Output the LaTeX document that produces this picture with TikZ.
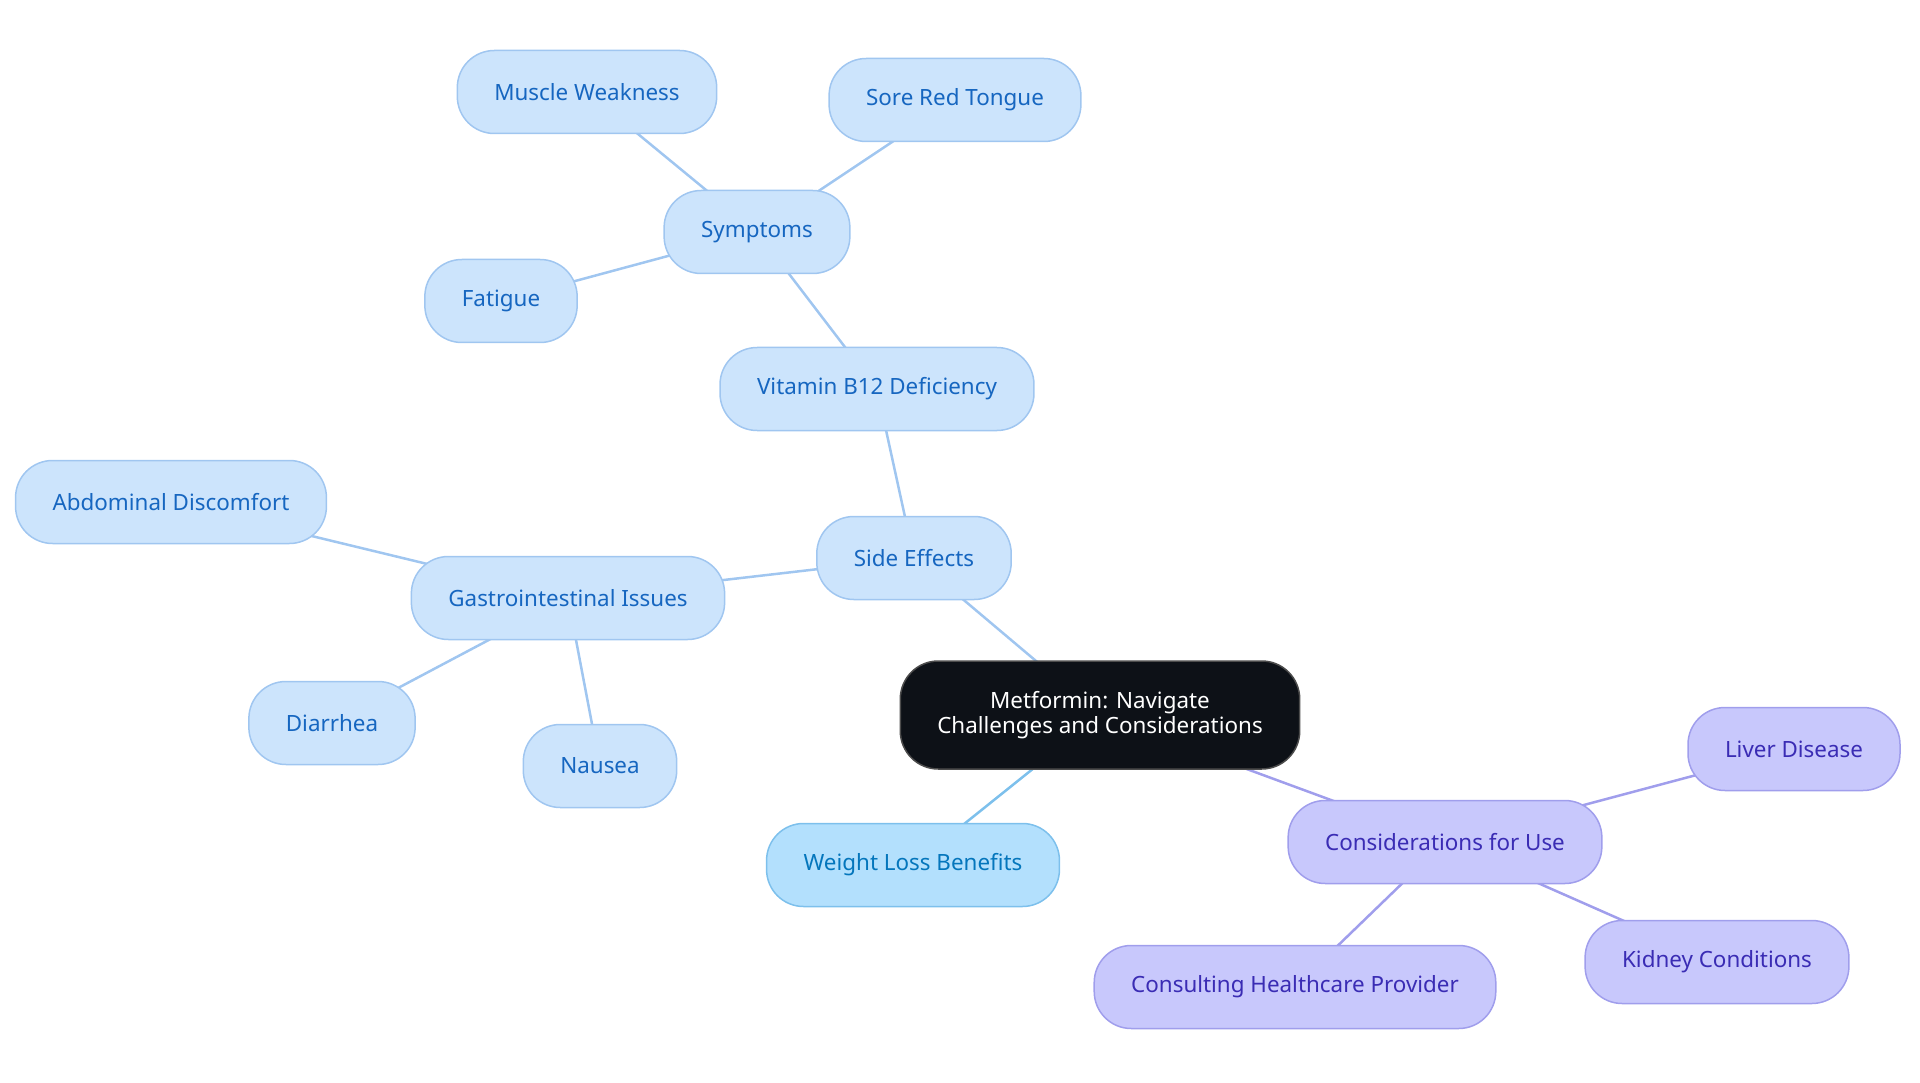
\documentclass[tikz,border=0pt]{standalone}
\usepackage{fontspec}
\setmainfont{Noto Sans}
\usetikzlibrary{backgrounds}
\definecolor{BlueFill}{RGB}{204,228,252}
\definecolor{BlueDraw}{RGB}{160,198,240}
\definecolor{BlueText}{RGB}{22,102,192}
\definecolor{SkyFill}{RGB}{179,224,253}
\definecolor{SkyDraw}{RGB}{125,192,236}
\definecolor{SkyText}{RGB}{4,118,188}
\definecolor{LilacFill}{RGB}{200,200,252}
\definecolor{LilacDraw}{RGB}{160,158,236}
\definecolor{LilacText}{RGB}{58,44,180}
\definecolor{RootFill}{RGB}{13,17,23}

\begin{document}
\begin{tikzpicture}[x=1pt,y=-1pt,
	topic/.style={draw=BlueDraw,fill=BlueFill,text=BlueText,line width=1.5pt,rounded corners=37pt,
		minimum height=83pt,inner xsep=37pt,font=\fontsize{22.4}{25}\selectfont},
	weight/.style={topic,draw=SkyDraw,fill=SkyFill,text=SkyText},
	use/.style={topic,draw=LilacDraw,fill=LilacFill,text=LilacText},
	root/.style={topic,draw=gray!60!black,fill=RootFill,text=white,align=center,minimum height=108pt,rounded corners=38pt},
	link/.style={line width=2.5pt,BlueDraw},
	]
	\useasboundingbox (0,0) rectangle (1920,1083);
	
	%% Root
	\draw (1100,715) node [root] (met) {Metformin: Navigate\\Challenges and Considerations};
	
	%% Side effects branch
	\draw (914,558) node [topic] (se) {Side Effects};
	\draw (877,389) node [topic] (b12) {Vitamin B12 Deficiency};
	\draw (757,232) node [topic] (sym) {Symptoms};
	\draw (587,92) node [topic] (mw) {Muscle Weakness};
	\draw (955,100) node [topic] (srt) {Sore Red Tongue};
	\draw (501,301) node [topic] (fat) {Fatigue};
	\draw (568,598) node [topic] (gi) {Gastrointestinal Issues};
	\draw (171,502) node [topic] (ad) {Abdominal Discomfort};
	\draw (332,723) node [topic] (dia) {Diarrhea};
	\draw (600,766) node [topic] (nau) {Nausea};
	
	%% Weight loss
	\draw (913,865) node [weight] (wl) {Weight Loss Benefits};
	
	%% Considerations branch
	\draw (1445,842) node [use] (cu) {Considerations for Use};
	\draw (1794,749) node [use] (ld) {Liver Disease};
	\draw (1717,962) node [use] (kc) {Kidney Conditions};
	\draw (1295,987) node [use] (chp) {Consulting Healthcare Provider};
	
	%% Links
	\begin{scope}[on background layer]
		\path [link] (met.center) edge (se.center);
		\path [link] (se.center) edge (b12.center);
		\path [link] (b12.center) edge (sym.center);
		\path [link] (sym.center) edge (mw.center);
		\path [link] (sym.center) edge (srt.center);
		\path [link] (sym.center) edge (fat.center);
		\path [link] (se.center) edge (gi.center);
		\path [link] (gi.center) edge (ad.center);
		\path [link] (gi.center) edge (dia.center);
		\path [link] (gi.center) edge (nau.center);
		\path [link,SkyDraw] (met.center) edge (wl.center);
		\path [link,LilacDraw] (met.center) edge (cu.center);
		\path [link,LilacDraw] (cu.center) edge (ld.center);
		\path [link,LilacDraw] (cu.center) edge (kc.center);
		\path [link,LilacDraw] (cu.center) edge (chp.center);
	\end{scope}
	
\end{tikzpicture}
\end{document}
